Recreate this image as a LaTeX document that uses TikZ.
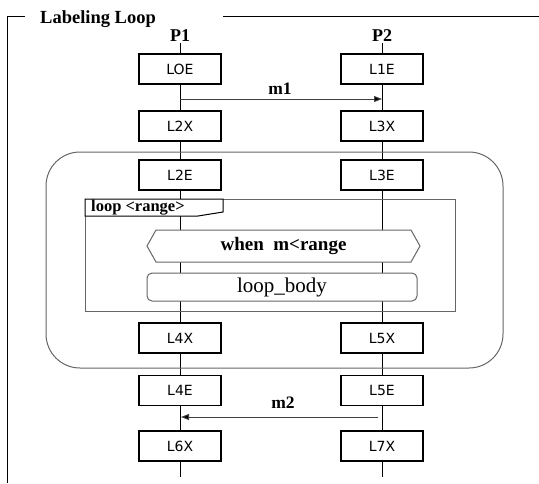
\documentclass[tikz,border=0pt]{standalone}
\usepackage{fontspec}
\setmainfont{Liberation Serif}
\newfontfamily\labelfont{DejaVu Sans}
\usetikzlibrary{arrows.meta,backgrounds}
\tikzset{
    state-box/.style = {draw=black, fill=white, line width=1.6pt, rectangle, minimum width=82pt, minimum height=30pt, inner sep=0pt, font=\labelfont\fontsize{14}{16}\selectfont},
    proc-name/.style = {inner sep=1pt, font=\bfseries\fontsize{18}{20}\selectfont},
    lifeline/.style = {draw=black, line width=0.9pt},
    msg-arrow/.style = {draw=black!75, line width=0.9pt, -{Triangle[length=8pt,width=6pt,fill=black]}},
    msg-name/.style = {font=\bfseries\fontsize{17.5}{20}\selectfont},
    region-box/.style = {draw=black!60, line width=1pt, rounded corners=34pt},
    loop-frame/.style = {draw=black!60, line width=1pt},
    loop-tag/.style = {draw=black, fill=white, line width=1pt},
    guard-box/.style = {draw=black!60, fill=white, line width=1pt},
    body-box/.style = {draw=black!60, fill=white, line width=1pt, rectangle, rounded corners=5pt, minimum width=270pt, minimum height=28pt, inner sep=0pt, font=\fontsize{21}{23}\selectfont},
}

\begin{document}
\begin{tikzpicture}[x=1pt, y=-1pt]
\useasboundingbox (0,0) rectangle (539,483);

% outer frame with its title
\node [anchor=base west, inner sep=0pt, font=\bfseries\fontsize{18.5}{20}\selectfont] (title) at (40,23) {Labeling Loop};
\draw [line width=1pt] (25,16) -- (7,16) -- (7,483);
\draw [line width=1pt] (223,16) -- (539,16);

% processes
\node [proc-name] (p1) at (180,36) {P1};
\node [proc-name] (p2) at (382,36) {P2};
\coordinate (p1end) at (180,477);
\coordinate (p2end) at (382,477);

% region and loop frame
\draw [region-box] (46,152) rectangle (503,368);
\draw [loop-frame] (85,199) rectangle (455,311);
\draw [loop-tag] (85,199) -- (223,199) -- (223,212) -- (198,216) -- (85,216) -- cycle;
\node [anchor=west, inner sep=0pt, font=\bfseries\fontsize{16.5}{18}\selectfont] (looptag) at (91,207.5) {loop <range>};

% guard and body
\draw [guard-box] (147,246) -- (156,230) -- (411,230) -- (420,246) -- (411,262) -- (156,262) -- cycle;
\node [inner sep=0pt, font=\bfseries\fontsize{19}{21}\selectfont] (guard) at (283.5,246) {when~~m<range};
\node [body-box] (body) at (282,287) {loop\_body};

% labels on P1
\node [state-box] (loe) at (180,69) {LOE};
\node [state-box] (l2x) at (180,126) {L2X};
\node [state-box] (l2e) at (180,175) {L2E};
\node [state-box] (l4x) at (180,338) {L4X};
\node [state-box] (l4e) at (180,390.5) {L4E};
\node [state-box] (l6x) at (180,446) {L6X};

% labels on P2
\node [state-box] (l1e) at (382,69) {L1E};
\node [state-box] (l3x) at (382,126) {L3X};
\node [state-box] (l3e) at (382,175) {L3E};
\node [state-box] (l5x) at (382,338) {L5X};
\node [state-box] (l5e) at (382,390.5) {L5E};
\node [state-box] (l7x) at (382,446) {L7X};

\begin{scope}[on background layer]
\draw [lifeline] (p1) -- (p1end);
\draw [lifeline] (p2) -- (p2end);
\end{scope}

% messages
\coordinate (m1from) at (180,99);
\coordinate (m1to) at (382,99);
\coordinate (m2from) at (378,417);
\coordinate (m2to) at (181,417);
\draw [msg-arrow] (m1from) -- (m1to);
\node [msg-name] (m1) at (280,89) {m1};
\draw [msg-arrow] (m2from) -- (m2to);
\node [msg-name] (m2) at (283,403) {m2};
\end{tikzpicture}
\end{document}
